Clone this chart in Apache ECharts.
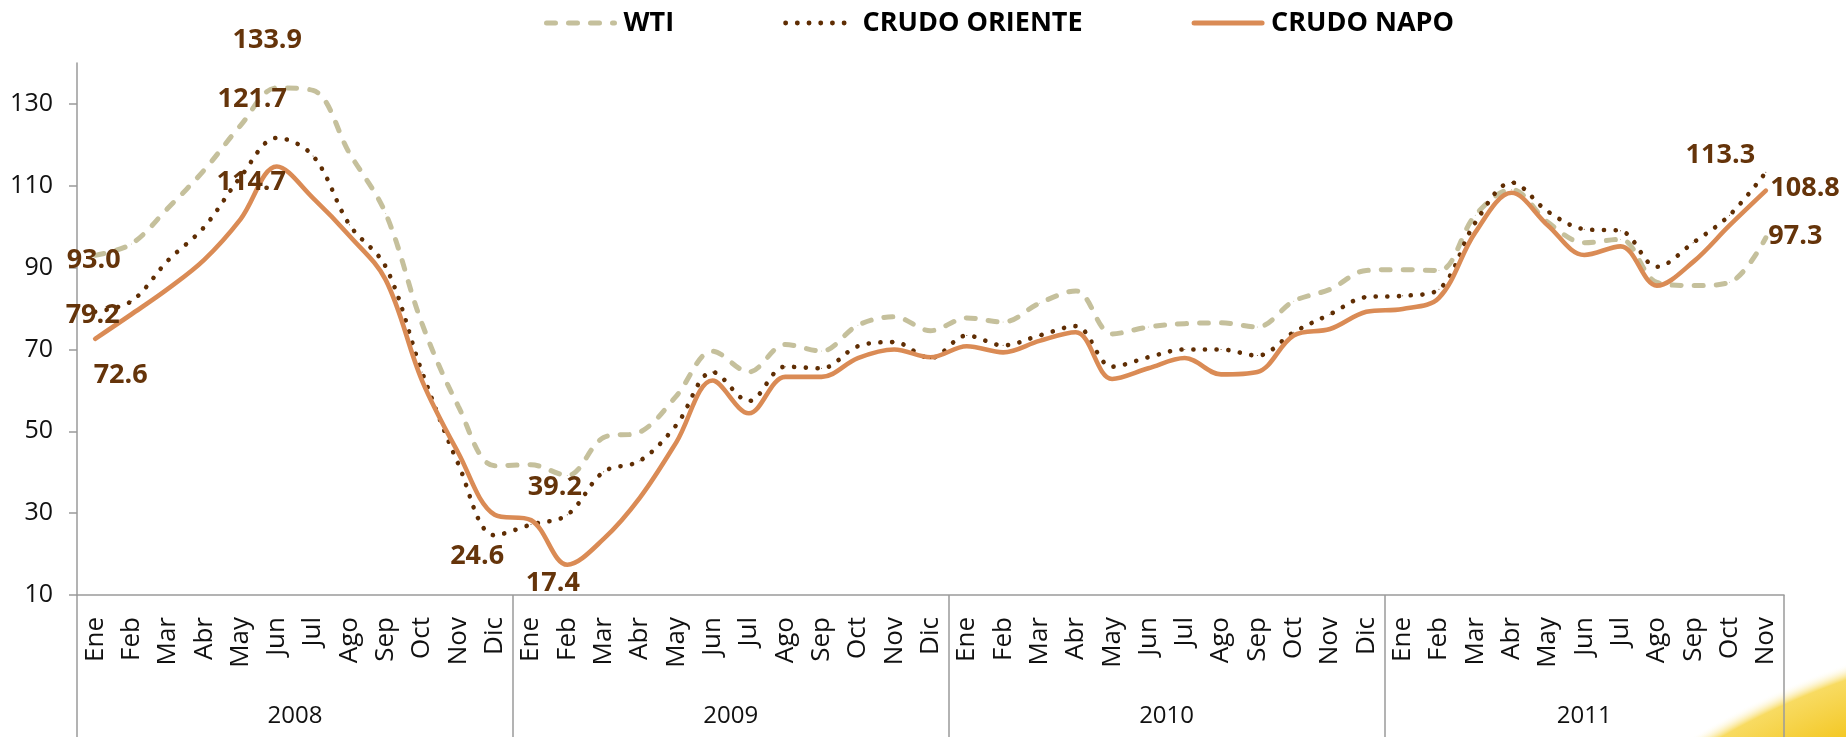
<!DOCTYPE html>
<html>
<head>
<meta charset="utf-8">
<title>Precios del crudo</title>
<script src="https://cdn.jsdelivr.net/npm/echarts@6/dist/echarts.min.js"></script>
<style>
  html, body { margin: 0; padding: 0; background: #fff; }
  #chart { width: 1846px; height: 737px; }
</style>
</head>
<body>
<div id="chart"></div>
<script>
// meses y años del eje
const monthNames = ['Ene', 'Feb', 'Mar', 'Abr', 'May', 'Jun', 'Jul', 'Ago', 'Sep', 'Oct', 'Nov', 'Dic'];
const years = ['2008', '2009', '2010', '2011'];
const yTicks = [10, 30, 50, 70, 90, 110, 130];

// precios mensuales (USD/barril)
const wti = [93.0, 95.8, 104.5, 113.8, 124.7, 133.9, 133.3, 118.0, 103.2, 76.3, 56.1, 41.6,
  41.8, 39.2, 48.5, 49.8, 58.6, 69.6, 64.5, 71.2, 69.6, 75.9, 78.0, 74.6,
  77.7, 76.7, 81.3, 84.3, 73.8, 75.5, 76.3, 76.5, 75.5, 81.8, 84.7, 89.3,
  89.5, 89.3, 102.8, 109.1, 101.1, 96.1, 96.9, 86.4, 85.6, 86.4, 97.3];
const oriente = [79.2, 81.8, 91.7, 99.9, 112.1, 121.7, 117.3, 100.5, 90.2, 64.5, 42.0, 24.6,
  27.2, 29.6, 40.1, 42.8, 51.5, 64.5, 57.4, 65.8, 65.4, 70.8, 71.8, 67.9,
  73.4, 71.0, 73.4, 75.7, 65.8, 68.1, 70.0, 70.0, 68.5, 74.2, 78.6, 82.8,
  83.1, 84.7, 101.0, 110.8, 103.7, 99.4, 99.0, 90.2, 96.1, 102.8, 113.3];
const napo = [72.6, 78.6, 84.8, 91.9, 101.8, 114.7, 107.0, 97.8, 87.0, 62.4, 44.7, 29.6,
  28.3, 17.4, 23.7, 33.8, 47.3, 62.4, 54.4, 63.3, 63.3, 67.9, 70.0, 68.1,
  70.8, 69.3, 72.1, 74.2, 62.8, 65.4, 67.9, 63.9, 64.5, 73.4, 75.0, 79.2,
  79.9, 82.6, 98.6, 108.3, 100.3, 93.1, 95.2, 85.6, 91.4, 100.3, 108.8];

const categories = years.flatMap(() => monthNames).slice(0, wti.length);

// limites de cada año sobre el eje (en meses) y centro de su etiqueta
const yearBounds = years.map((y, i) => i * 12).concat([categories.length]);
const yearMids = years.map((y, i) => (yearBounds[i] + yearBounds[i + 1]) / 2);

// donde va cada etiqueta de dato: indice -> [dx, dy, align]
const wtiSpots = { 0: [-1, 5], 5: [-9, -47], 13: [-12, 12], 46: [3, -1, 'left'] };
const orienteSpots = { 0: [-2, 4], 5: [-24, -38], 11: [-17, 22], 46: [-45, -16] };
const napoSpots = { 0: [26, 37], 5: [-25, 16], 13: [-14, 19], 46: [5, -2, 'left'] };

const labelBase = {
  show: false,
  fontFamily: 'Open Sans',
  fontWeight: 'bold',
  fontSize: 27,
  color: '#65340a',
  formatter: p => Number(p.value).toFixed(1)
};

function withLabels(values, spots) {
  return values.map((v, i) => {
    const s = spots[i];
    if (!s) return v;
    return {
      value: v,
      label: { show: true, position: [s[0], s[1]], align: s[2] || 'center', verticalAlign: 'middle' }
    };
  });
}

function lineSeries(name, values, spots, color, lineStyle) {
  return {
    name: name,
    type: 'line',
    data: withLabels(values, spots),
    smooth: 0.35,
    symbol: 'circle',
    symbolSize: 1,
    showAllSymbol: true,
    itemStyle: { color: color },
    lineStyle: Object.assign({ color: color, cap: 'round' }, lineStyle),
    label: labelBase,
    emphasis: { disabled: true }
  };
}

const axisGray = '#9a9a9a';
const chart = echarts.init(document.getElementById('chart'));

const option = {
  animation: false,
  backgroundColor: '#fff',
  textStyle: { fontFamily: 'Open Sans' },
  graphic: [{
    type: 'circle',
    silent: true,
    z: -10,
    shape: { cx: 2100, cy: 1400, r: 779 },
    style: {
      fill: new echarts.graphic.RadialGradient(0.5, 0.5, 0.5, [
        { offset: 0.9, color: '#f3c51c' },
        { offset: 0.98, color: '#f8db62' },
        { offset: 1, color: 'rgba(255,255,255,0)' }
      ])
    }
  }],
  legend: {
    data: [
      { name: 'WTI', lineStyle: { width: 5, type: [9, 13], cap: 'round' } },
      { name: 'CRUDO ORIENTE', lineStyle: { width: 4.8, type: [0.1, 11.6], cap: 'round' } },
      { name: 'CRUDO NAPO', lineStyle: { width: 5, cap: 'round' } }
    ],
    left: 544,
    top: 8,
    padding: 0,
    itemWidth: 68,
    itemHeight: 14,
    itemGap: 109,
    itemStyle: { opacity: 0 },
    textStyle: {
      fontFamily: 'Open Sans',
      fontWeight: 'bold',
      fontSize: 27,
      lineHeight: 30,
      color: '#000',
      padding: [0, 0, 0, 4]
    }
  },
  grid: {
    left: 77,
    right: 62,
    top: 63,
    bottom: 142,
    outerBoundsMode: 'none'
  },
  xAxis: [{
    type: 'category',
    data: categories,
    boundaryGap: true,
    axisLine: { lineStyle: { color: axisGray, width: 1.5 } },
    axisTick: { interval: 0, length: 80, lineStyle: { color: axisGray, width: 1.5 } },
    axisLabel: {
      interval: 0,
      rotate: 90,
      margin: 22,
      fontSize: 26,
      color: '#111'
    },
    splitLine: { show: false }
  }, {
    type: 'value',
    position: 'bottom',
    min: 0,
    max: categories.length,
    axisLine: { show: false },
    splitLine: { show: false },
    axisTick: {
      customValues: yearBounds,
      length: 143,
      lineStyle: { color: axisGray, width: 1.5 }
    },
    axisLabel: {
      customValues: yearMids,
      formatter: v => years[yearMids.indexOf(v)] || '',
      margin: 109,
      fontSize: 24,
      color: '#111'
    }
  }],
  yAxis: {
    type: 'value',
    min: 10,
    max: 140,
    axisLine: { show: true, lineStyle: { color: axisGray, width: 1.5 } },
    axisTick: { show: true, length: 8, customValues: yTicks, lineStyle: { color: axisGray, width: 1.5 } },
    axisLabel: { customValues: yTicks, margin: 24, fontSize: 25, color: '#111' },
    splitLine: { show: false }
  },
  series: [
    lineSeries('WTI', wti, wtiSpots, '#c5c09c', { width: 5, type: [9, 13] }),
    lineSeries('CRUDO ORIENTE', oriente, orienteSpots, '#5f2d03', { width: 4.6, type: [0.1, 11.6] }),
    lineSeries('CRUDO NAPO', napo, napoSpots, '#da8b55', { width: 4.6, type: 'solid' })
  ]
};

chart.setOption(option);
</script>
</body>
</html>
